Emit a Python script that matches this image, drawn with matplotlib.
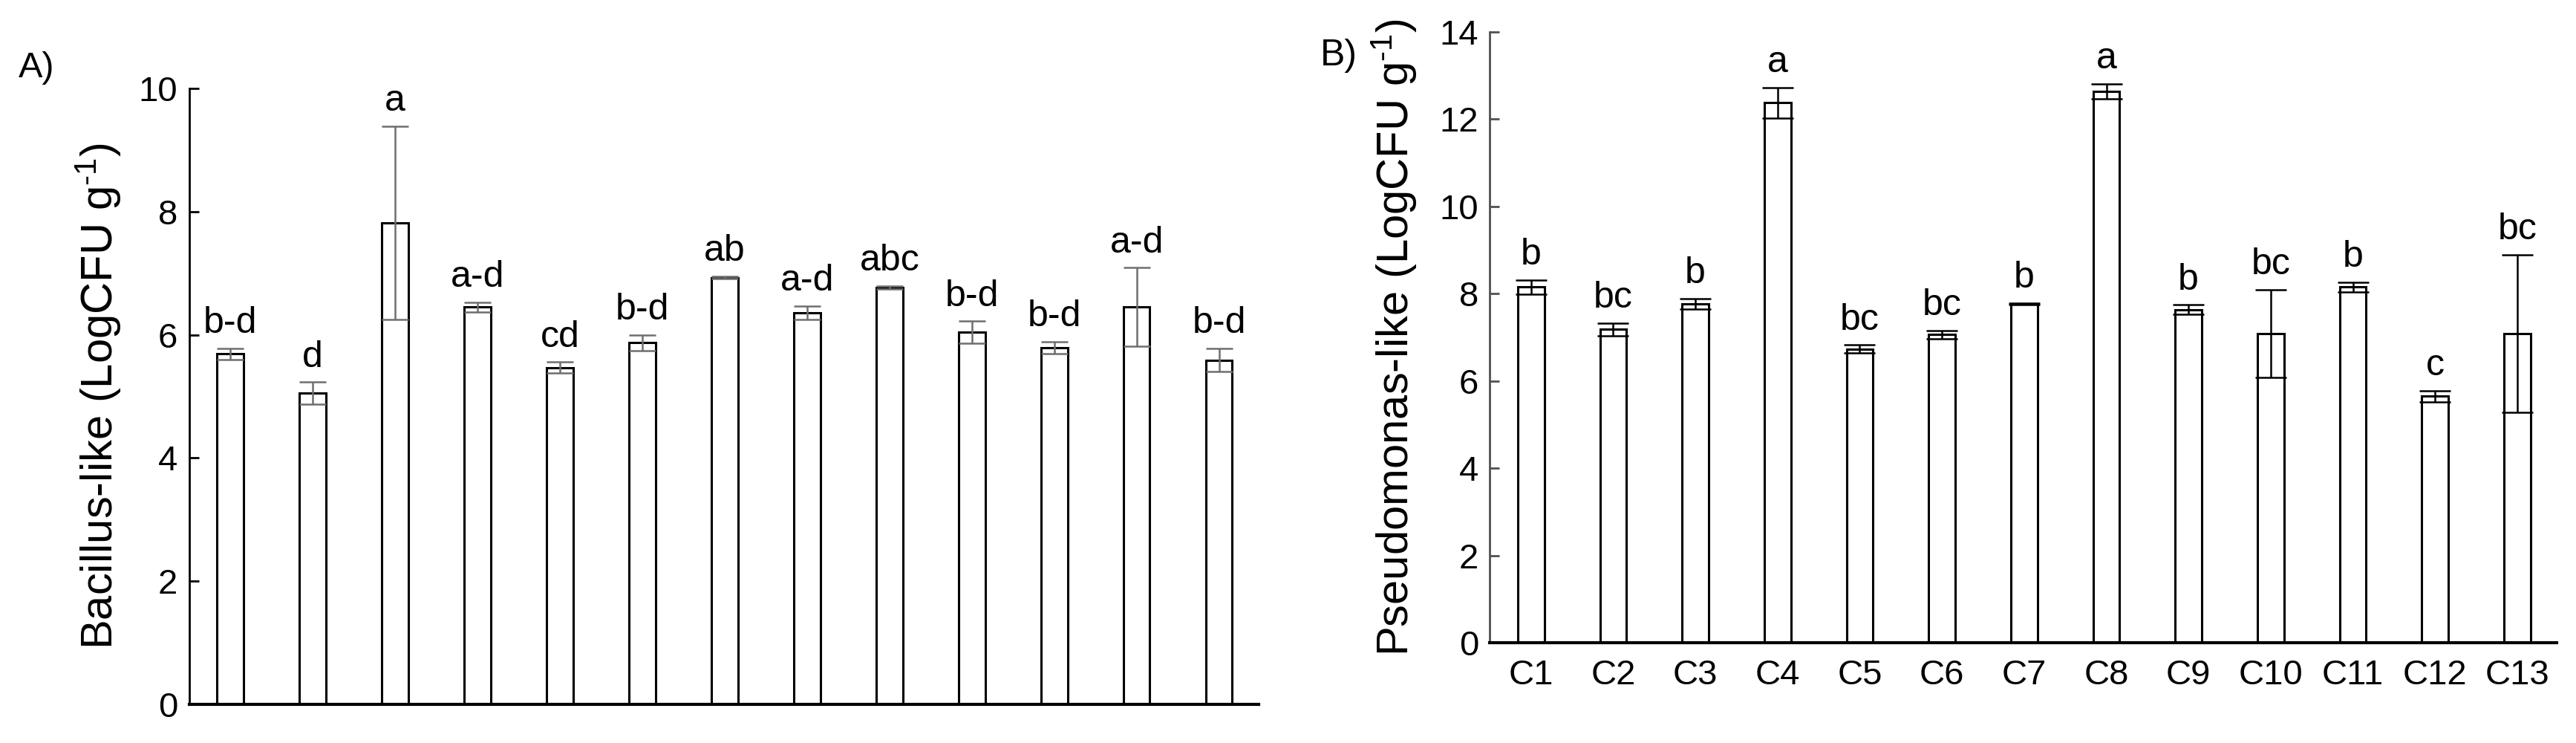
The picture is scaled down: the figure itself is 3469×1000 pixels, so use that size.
import matplotlib
matplotlib.use("Agg")
import matplotlib.pyplot as plt
import numpy as np

# --- data ---
strains = ['C1', 'C2', 'C3', 'C4', 'C5', 'C6', 'C7', 'C8', 'C9', 'C10', 'C11', 'C12', 'C13']

bacillus_mean = [5.69, 5.05, 7.82, 6.45, 5.47, 5.87, 6.93, 6.36, 6.77, 6.04, 5.79, 6.45, 5.59]
bacillus_err = [0.09, 0.18, 1.57, 0.08, 0.085, 0.13, 0.02, 0.11, 0.025, 0.18, 0.10, 0.64, 0.19]
bacillus_letters = ['b-d', 'd', 'a', 'a-d', 'cd', 'b-d', 'ab', 'a-d', 'abc', 'b-d', 'b-d', 'a-d', 'b-d']

pseudo_mean = [8.15, 7.18, 7.76, 12.37, 6.73, 7.06, 7.76, 12.64, 7.63, 7.08, 8.15, 5.65, 7.08]
pseudo_err = [0.16, 0.14, 0.12, 0.35, 0.09, 0.09, 0.02, 0.17, 0.11, 1.01, 0.11, 0.13, 1.81]
pseudo_letters = ['b', 'bc', 'b', 'a', 'bc', 'bc', 'b', 'a', 'b', 'bc', 'b', 'c', 'bc']

plt.rcParams['font.family'] = ['Liberation Sans', 'DejaVu Sans']
plt.rcParams['mathtext.fontset'] = 'custom'
plt.rcParams['mathtext.rm'] = 'Liberation Sans'
plt.rcParams['mathtext.it'] = 'Liberation Sans:italic'

fig = plt.figure(figsize=(34.69, 10), dpi=100)
ax_a = fig.add_axes([0.0734, 0.0524, 0.4152, 0.8283])
ax_b = fig.add_axes([0.5784, 0.135, 0.4141, 0.8223])

x = np.arange(len(strains))


def draw_panel(ax, means, errs, letters, ymax, ylabel, err_color, spine_color, capsize):
    ax.bar(x, means, width=0.32, color='white', edgecolor='black', linewidth=2.2,
           yerr=errs, error_kw=dict(ecolor=err_color, elinewidth=1.8, capsize=capsize,
                                    capthick=1.8))
    # significance letters above each error bar
    for xi, m, e, lab in zip(x, means, errs, letters):
        ax.annotate(lab, (xi, m + e), xytext=(0, 15), textcoords='offset points',
                    ha='center', va='baseline', fontsize=36)
    ax.set_xlim(-0.5, 12.48)
    ax.set_ylim(0, ymax)
    ax.set_yticks(range(0, ymax + 1, 2))
    ax.spines['top'].set_visible(False)
    ax.spines['right'].set_visible(False)
    ax.spines['left'].set_linewidth(2)
    ax.spines['left'].set_color(spine_color)
    ax.spines['bottom'].set_linewidth(3)
    ax.tick_params(axis='y', direction='in', length=9, width=2, color=spine_color,
                   labelsize=34, pad=11)
    ax.set_ylabel(ylabel, fontsize=43, va='center')


draw_panel(ax_a, bacillus_mean, bacillus_err, bacillus_letters, 10,
           r'Bacillus-like (LogCFU g$^{\text{-}1}$)', '#6e6e6e', 'black', 13)
ax_a.set_xticks([])
ax_a.yaxis.set_label_coords(-0.0848, 0.5)

draw_panel(ax_b, pseudo_mean, pseudo_err, pseudo_letters, 14,
           r'Pseudomonas-like (LogCFU g$^{\text{-}1}$)', 'black', '#505050', 15)
ax_b.set_xticks(x, strains)
ax_b.tick_params(axis='x', length=0, labelsize=34, pad=16)
ax_b.yaxis.set_label_coords(-0.0895, 0.5)

fig.text(0.0072, 0.908, 'A)', fontsize=35, va='center', ha='left')
fig.text(0.5125, 0.925, 'B)', fontsize=36, va='center', ha='left')

fig.savefig('out.png', dpi=100)
